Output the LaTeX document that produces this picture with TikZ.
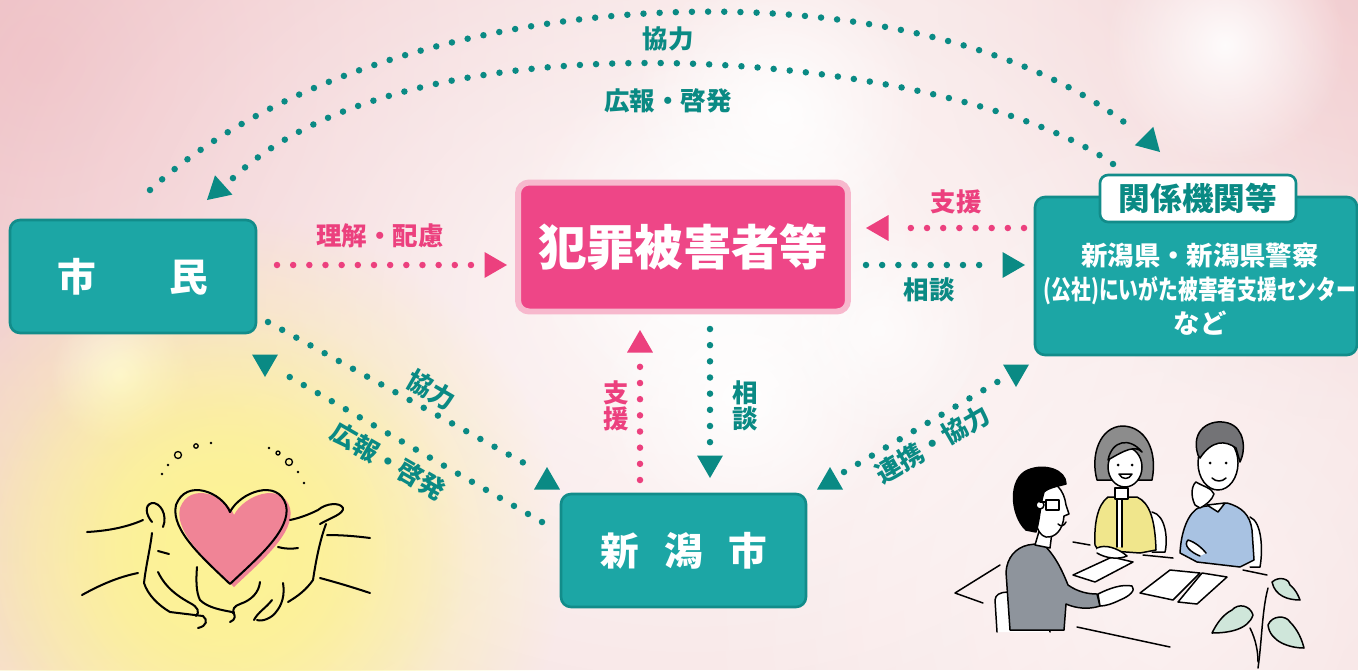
\documentclass[tikz,border=0pt]{standalone}
\usepackage{graphicx}
\usepackage{fontspec}
\newfontfamily\jp{Noto Sans CJK JP}
\usetikzlibrary{shapes.geometric,fadings}

\definecolor{bgpink}{RGB}{246,222,222}
\definecolor{bgdeep}{RGB}{239,192,197}
\definecolor{tealfill}{RGB}{28,166,165}
\definecolor{tealedge}{RGB}{18,140,138}
\definecolor{tealink}{RGB}{10,138,132}
\definecolor{magfill}{RGB}{238,70,135}
\definecolor{magedge}{RGB}{247,184,205}
\definecolor{pinkink}{RGB}{236,64,126}
\definecolor{glowyellow}{RGB}{253,243,150}
\definecolor{heartpink}{RGB}{240,132,150}
\definecolor{suitgrey}{RGB}{142,148,156}
\definecolor{cardigan}{RGB}{240,230,140}
\definecolor{sweater}{RGB}{168,194,226}
\definecolor{hairgrey}{RGB}{140,140,140}
\definecolor{hairdark}{RGB}{115,115,118}
\definecolor{leafgreen}{RGB}{207,230,218}

\tikzfading[name=softglow, inner color=transparent!0, outer color=transparent!100]

\tikzset{
  orgbox/.style={draw=tealedge, line width=1.5pt, fill=tealfill, rounded corners=0.2cm,
    text=white, font=\jp\bfseries\fontsize{22}{24}\selectfont},
  dotpath/.style={line width=3.7pt, line cap=round, dash pattern=on 0pt off 9.2pt},
  tealdots/.style={dotpath, draw=tealink},
  pinkdots/.style={dotpath, draw=pinkink},
  arrowtri/.style={regular polygon, regular polygon sides=3, minimum size=0.6cm,
    inner sep=0pt, outer sep=0pt, anchor=corner 1},
  lab/.style={font=\jp\bfseries\fontsize{14.5}{14.8}\selectfont, inner sep=0pt, align=center},
  sketch/.style={line width=0.85pt, line cap=round, line join=round, draw=black},
  heartline/.style={line width=1.15pt, line cap=round, line join=round, draw=black},
  glow/.style={path fading=softglow},
}

\begin{document}
\begin{tikzpicture}[x=0.02cm,y=-0.02cm]
\useasboundingbox (0,0) rectangle (1358,670);

% ---------- soft pink background with light spots ----------
\fill[bgpink] (0,0) rectangle (1358,670);
\fill[bgdeep, glow] (40,60) circle (700);
\fill[bgdeep, glow, opacity=0.6] (1358,0) circle (420);
\fill[white, glow, opacity=0.8] (690,300) ellipse (820 and 640);
\fill[white, glow, opacity=0.5] (1180,600) circle (500);
\fill[white, glow, opacity=0.9] (720,240) circle (200);
\fill[white, glow, opacity=0.9] (780,110) circle (150);
\fill[white, glow, opacity=0.9] (1225,45) circle (120);
\fill[white, glow, opacity=0.9] (120,375) circle (70);
\fill[white, glow, opacity=0.9] (742,400) circle (150);
\fill[white, glow, opacity=0.7] (880,330) circle (110);

% ---------- hands holding a heart ----------
\fill[glowyellow, glow] (225,555) circle (340);
\fill[glowyellow, glow] (225,550) circle (240);
\fill[glowyellow, glow, opacity=0.8] (225,545) circle (160);
\fill[heartpink] (234,515) .. controls (226,495) and (190,481) .. (180,508)
  .. controls (174,533) and (209,563) .. (234,587)
  .. controls (259,563) and (296,533) .. (290,508)
  .. controls (282,481) and (244,495) .. (234,515) -- cycle;
\draw[heartline] (230,512) .. controls (222,492) and (186,478) .. (176,505)
  .. controls (170,530) and (205,560) .. (230,584)
  .. controls (255,560) and (292,530) .. (286,505)
  .. controls (278,478) and (240,492) .. (230,512);
% left hand
\draw[heartline] (87,532) .. controls (105,531) and (125,528) .. (143,520);
\draw[heartline] (163,527) .. controls (168,515) and (160,502) .. (152,503)
  .. controls (144,505) and (146,515) .. (152,522);
\draw[heartline] (152,533) .. controls (150,550) and (146,565) .. (144,583)
  .. controls (148,595) and (158,605) .. (170,612) -- (203,616)
  .. controls (208,620) and (207,626) .. (198,628);
\draw[heartline] (82,595) .. controls (100,585) and (118,577) .. (138,573);
\draw[heartline] (158,572) .. controls (163,582) and (170,592) .. (190,603)
  .. controls (198,607) and (200,612) .. (196,616);
\draw[heartline] (197,567) .. controls (196,580) and (196,592) .. (200,600)
  .. controls (208,608) and (222,610) .. (232,612) .. controls (236,614) and (236,620) .. (230,622);
\draw[heartline] (158,551) -- (169,554);
% right hand
\draw[heartline] (290,520) .. controls (300,518) and (310,514) .. (318,510)
  .. controls (326,503) and (340,502) .. (343,508) .. controls (344,514) and (330,518) .. (320,524);
\draw[heartline] (327,535) .. controls (340,535) and (355,536) .. (370,538);
\draw[heartline] (320,578) .. controls (335,582) and (352,587) .. (370,593);
\draw[heartline] (326,524) .. controls (320,540) and (316,560) .. (313,580)
  .. controls (306,590) and (298,596) .. (288,602);
\draw[heartline] (278,547) .. controls (285,549) and (292,549) .. (298,548);
\draw[heartline] (260,582) .. controls (259,592) and (252,600) .. (240,604)
  .. controls (234,606) and (232,610) .. (234,613);
\draw[heartline] (283,583) .. controls (285,595) and (282,605) .. (276,612)
  .. controls (272,618) and (262,622) .. (257,620);
\draw[heartline] (272,600) .. controls (266,608) and (258,612) .. (254,620);
% little sparkles above the heart
\draw[sketch, line width=0.75pt] (178,455) circle (3.5) (196,446) circle (2.2)
  (289,462) circle (3.5) (278,453) circle (2);
\fill (211,443) circle (1.3) (168,465) circle (1.3) (162,474) circle (1.3)
  (269,448) circle (1.3) (298,472) circle (1.3) (304,483) circle (1.3);

% ---------- consultation scene ----------
% table
\draw[sketch] (1000,565) -- (955,593) -- (983,603);
\draw[sketch] (1077,627) -- (1170,647);
\draw[sketch] (1073,542) -- (1090,545);
\draw[sketch] (1143,555) -- (1173,558);
\draw[sketch] (1243,570) -- (1267,575);
% papers
\draw[sketch, fill=white] (1073,575) -- (1112,557) -- (1133,562) -- (1095,582) -- cycle;
\draw[sketch, fill=white] (1140,593) -- (1170,570) -- (1200,573) -- (1173,600) -- cycle;
\draw[sketch, fill=white] (1178,602) -- (1197,604) -- (1227,577) -- (1202,573) -- cycle;
% woman: chair, body, head
\draw[sketch, fill=white] (1152,512) .. controls (1166,515) and (1168,540) .. (1165,552) -- (1152,552);
\draw[sketch, fill=cardigan] (1095,545) .. controls (1094,525) and (1097,505) .. (1108,497)
  -- (1137,497) .. controls (1150,503) and (1155,520) .. (1156,550) -- (1140,553) -- (1098,550) -- cycle;
\fill[white] (1117,499) rectangle (1122,547);
\draw[sketch] (1117,499) -- (1117,547) (1122,499) -- (1122,547);
\draw[sketch, fill=white] (1097,548) .. controls (1105,544) and (1118,548) .. (1127,556)
  .. controls (1118,560) and (1105,558) .. (1097,553);
\draw[sketch, fill=white] (1115,488) rectangle (1128,499);
\draw[sketch, fill=hairgrey] (1097,480) .. controls (1090,455) and (1100,427) .. (1122,426)
  .. controls (1145,426) and (1158,450) .. (1152,480) -- cycle;
\draw[sketch, fill=white] (1125,467) ellipse (17 and 20);
\draw[sketch, fill=hairgrey] (1108,460) .. controls (1112,440) and (1130,437) .. (1142,452)
  .. controls (1135,445) and (1125,450) .. (1108,460);
\fill (1118,465) circle (1.5) (1132,465) circle (1.5);
\draw[sketch, fill=white] (1119,474) .. controls (1122,480) and (1129,480) .. (1132,474) -- cycle;
% man on the right: chair, body, head, hand
\draw[sketch, fill=white] (1250,517) .. controls (1262,522) and (1263,550) .. (1260,567) -- (1250,567);
\draw[sketch, fill=sweater] (1180,553) .. controls (1181,532) and (1188,512) .. (1200,507)
  -- (1227,503) .. controls (1242,507) and (1250,515) .. (1252,530) -- (1254,560)
  -- (1240,567) -- (1197,562) -- cycle;
\draw[sketch, fill=white] (1207,505) -- (1225,503) -- (1218,512) -- cycle;
\draw[sketch, fill=white] (1200,556) .. controls (1190,552) and (1183,545) .. (1188,540)
  .. controls (1195,542) and (1202,548) .. (1206,553);
\draw[sketch, fill=white] (1218,463) ellipse (20 and 27);
\draw[sketch, fill=hairdark] (1198,455) .. controls (1190,430) and (1210,418) .. (1228,423)
  .. controls (1245,428) and (1246,450) .. (1240,462) -- (1236,448)
  .. controls (1225,440) and (1212,440) .. (1200,458) -- cycle;
\fill (1210,463) circle (1.5) (1226,463) circle (1.5);
\draw[sketch] (1212,478) .. controls (1216,482) and (1222,482) .. (1226,478);
\draw[sketch, fill=white] (1195,505) .. controls (1190,495) and (1192,485) .. (1196,482)
  .. controls (1202,486) and (1212,488) .. (1214,494) .. controls (1212,500) and (1206,505) .. (1200,508) -- cycle;
% counsellor in front: chair, body, head with glasses
\draw[sketch, fill=white] (997,632) -- (995,600) .. controls (996,590) and (1010,589) .. (1046,600) -- (1050,632);
\draw[sketch, fill=suitgrey] (1010,630) -- (1006,572) .. controls (1007,558) and (1015,548) .. (1028,545)
  -- (1042,543) .. controls (1055,555) and (1062,570) .. (1068,585)
  .. controls (1078,592) and (1088,594) .. (1097,594) -- (1100,606)
  .. controls (1088,610) and (1075,608) .. (1066,604) -- (1064,630) -- cycle;
\draw[sketch, fill=white] (1098,594) .. controls (1110,588) and (1122,584) .. (1132,586)
  .. controls (1136,590) and (1130,596) .. (1120,600) .. controls (1112,604) and (1105,606) .. (1100,606) -- cycle;
\draw[sketch, fill=white] (1035,545) -- (1040,528) -- (1052,532) -- (1050,548) -- cycle;
\draw[sketch, fill=white] (1040,483) .. controls (1055,478) and (1064,490) .. (1066,505)
  -- (1069,514) -- (1064,516) .. controls (1063,530) and (1055,538) .. (1046,537)
  .. controls (1036,535) and (1032,515) .. (1035,495) -- cycle;
\draw[sketch, fill=black] (1026,530) .. controls (1010,515) and (1008,478) .. (1028,470)
  .. controls (1045,463) and (1066,470) .. (1066,484) .. controls (1058,486) and (1048,488) .. (1044,492)
  .. controls (1040,505) and (1040,520) .. (1036,532) -- cycle;
\draw[sketch, fill=white] (1040,505) circle (4);
\draw[sketch, line width=1.1pt] (1046,500) rectangle (1059,510) (1040,502) -- (1046,502);
\draw[sketch] (1058,524) .. controls (1061,527) and (1064,526) .. (1066,522);
% plant
\draw[sketch] (1268,588) .. controls (1262,610) and (1262,640) .. (1258,668);
\draw[sketch] (1250,628) .. controls (1256,640) and (1258,652) .. (1258,662);
\draw[sketch, fill=leafgreen] (1272,582) .. controls (1280,575) and (1290,580) .. (1290,585)
  .. controls (1296,590) and (1298,595) .. (1300,600) .. controls (1288,600) and (1275,596) .. (1272,582) -- cycle;
\draw[sketch, fill=leafgreen] (1253,615) .. controls (1250,605) and (1238,603) .. (1232,610)
  .. controls (1222,615) and (1216,625) .. (1212,633) .. controls (1228,633) and (1248,630) .. (1253,615) -- cycle;
\draw[sketch, fill=leafgreen] (1268,625) .. controls (1272,615) and (1286,615) .. (1290,622)
  .. controls (1298,630) and (1302,640) .. (1304,648) .. controls (1290,648) and (1270,642) .. (1268,625) -- cycle;

% ---------- main boxes ----------
\node[orgbox, minimum width=4.92cm, minimum height=2.26cm] (citizen) at (133,276.5)
  {市\hspace{42pt}民};
\node[draw=magedge, line width=3.4pt, fill=magfill, rounded corners=0.22cm,
  minimum width=6.6cm, minimum height=2.58cm, text=white,
  font=\jp\bfseries\fontsize{27.5}{30}\selectfont] (victim) at (683,247) {犯罪被害者等};
\node[orgbox, minimum width=6.44cm, minimum height=3.16cm] (agency) at (1196,276) {};
\node[draw=tealedge, line width=1.5pt, fill=white, rounded corners=0.16cm,
  minimum width=3.92cm, minimum height=0.94cm, text=tealink,
  font=\jp\bfseries\fontsize{18}{20}\selectfont] (agencytab) at (1198,198.5) {関係機関等};
\node[text=white, align=center, inner sep=0pt, font=\jp\bfseries\fontsize{15}{19.5}\selectfont]
  (agencytext) at (1200,289)
  {新潟県・新潟県警察\\\scalebox{0.75}[1]{(公社)にいがた被害者支援センター}\\など};
\node[orgbox, minimum width=4.9cm, minimum height=2.26cm] (city) at (683.5,550.5)
  {新\hspace{14.5pt}潟\hspace{14.5pt}市};

% ---------- connectors ----------
% citizens -> victims
\coordinate (ua) at (277,265); \coordinate (ub) at (478,265);
\draw[pinkdots] (ua) -- (ub);
\node[arrowtri, fill=pinkink, rotate=-90] (uc) at (507,265) {};
\node[lab, text=pinkink] at (380,236) {理解・配慮};
% agencies -> victims (support)
\coordinate (sa) at (1024,228); \coordinate (sb) at (896,228);
\draw[pinkdots] (sa) -- (sb);
\node[arrowtri, fill=pinkink, rotate=90] (sc) at (866,228) {};
\node[lab, text=pinkink] at (956,202) {支援};
% victims -> agencies (consultation)
\coordinate (ca) at (866,265); \coordinate (cb) at (994,265);
\draw[tealdots] (ca) -- (cb);
\node[arrowtri, fill=tealink, rotate=-90] (cc) at (1025,265) {};
\node[lab, text=tealink] at (929,290) {相談};
% city -> victims (support)
\coordinate (va) at (640,480); \coordinate (vb) at (640,360);
\draw[pinkdots] (va) -- (vb);
\node[arrowtri, fill=pinkink] (vc) at (640,330) {};
\node[lab, text=pinkink] at (616,406) {支\\援};
% victims -> city (consultation)
\coordinate (wa) at (710,329); \coordinate (wb) at (710,448);
\draw[tealdots] (wa) -- (wb);
\node[arrowtri, fill=tealink, rotate=180] (wc) at (710,478) {};
\node[lab, text=tealink] at (745,406) {相\\談};
% citizens -> city (cooperation)
\coordinate (da) at (268,322); \coordinate (db) at (524,463);
\draw[tealdots] (da) -- (db);
\node[arrowtri, fill=tealink] (dc) at (547,467) {};
\node[lab, text=tealink, rotate=-30] at (431,390) {協力};
% city -> citizens (publicity)
\coordinate (ea) at (542,522); \coordinate (eb) at (281,372);
\draw[tealdots] (ea) -- (eb);
\node[arrowtri, fill=tealink, rotate=180] (ec) at (265,377) {};
\node[lab, text=tealink, rotate=-30] at (388,461) {広報・啓発};
% city <-> agencies
\coordinate (fa) at (844,472); \coordinate (fb) at (999,381);
\draw[tealdots] (fa) -- (fb);
\node[arrowtri, fill=tealink] (fc) at (830,467) {};
\node[arrowtri, fill=tealink, rotate=180] (fd) at (1016,387) {};
\node[lab, text=tealink, rotate=30] at (933,444) {連携・協力};
% citizens -> agencies (cooperation, upper arc)
\coordinate (ga) at (150,190); \coordinate (gb) at (1133,129);
\draw[tealdots] (ga) .. controls (380,-20) and (910,-50) .. (gb);
\node[arrowtri, fill=tealink, rotate=-135] (gc) at (1160,152) {};
\node[lab, text=tealink] at (668,39) {協力};
% agencies -> citizens (publicity, lower arc)
\coordinate (ha) at (1113,164); \coordinate (hb) at (232,179);
\draw[tealdots] (ha) .. controls (960,55) and (420,0) .. (hb);
\node[arrowtri, fill=tealink, rotate=132] (hc) at (207,200) {};
\node[lab, text=tealink] at (668,101) {広報・啓発};
\end{tikzpicture}
\end{document}
